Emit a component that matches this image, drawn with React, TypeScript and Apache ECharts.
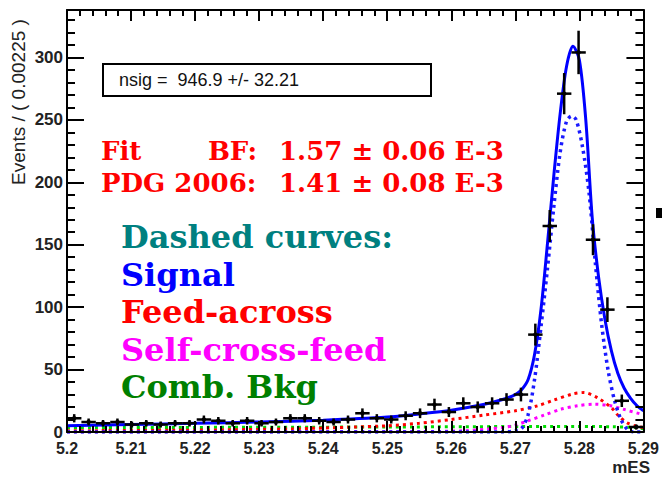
import React, { useEffect, useRef } from "react";
import * as echarts from "echarts";

// Bin centers (bin width 0.00225)
const binCenters = [
  5.201125, 5.203375, 5.205625, 5.207875, 5.210125, 5.212375, 5.214625, 5.216875,
  5.219125, 5.221375, 5.223625, 5.225875, 5.228125, 5.230375, 5.232625, 5.234875,
  5.237125, 5.239375, 5.241625, 5.243875, 5.246125, 5.248375, 5.250625, 5.252875,
  5.255125, 5.257375, 5.259625, 5.261875, 5.264125, 5.266375, 5.268625, 5.270875,
  5.273125, 5.275375, 5.277625, 5.279875, 5.282125, 5.284375, 5.286625, 5.288875,
];
const counts = [
  11, 8, 7, 8, 6, 7, 6, 7, 7, 10, 9, 7, 9, 7, 8, 11, 11, 9, 8, 10,
  15, 11, 10, 13, 15, 22, 16, 23, 20, 23, 26, 30, 78, 165, 271, 304, 154, 98, 25, 4,
];
const errors = [
  3.3, 2.8, 2.6, 2.8, 2.4, 2.6, 2.4, 2.6, 2.6, 3.2, 3.0, 2.6, 3.0, 2.6, 2.8, 3.3, 3.3, 3.0, 2.8, 3.2,
  3.9, 3.3, 3.2, 3.6, 3.9, 4.7, 4.0, 4.8, 4.5, 4.8, 5.1, 5.5, 8.8, 12.8, 16.5, 17.4, 12.4, 9.9, 5.0, 2.0,
];

const totalFit = [
  [5.2, 5], [5.21, 6], [5.22, 7], [5.23, 8], [5.24, 9.5], [5.25, 12], [5.255, 14.5],
  [5.26, 17.5], [5.265, 22], [5.268, 26], [5.27, 30], [5.271, 34], [5.272, 42], [5.273, 62],
  [5.274, 98], [5.275, 150], [5.276, 205], [5.277, 255], [5.278, 293], [5.279, 309],
  [5.28, 298], [5.281, 250], [5.282, 172], [5.283, 124], [5.284, 90], [5.285, 65],
  [5.286, 47], [5.287, 35], [5.288, 27], [5.289, 21], [5.29, 17],
];
const signalCurve = [
  [5.2, 0], [5.26, 0], [5.268, 0], [5.27, 1], [5.271, 3], [5.272, 14], [5.273, 42],
  [5.274, 84], [5.275, 130], [5.276, 180], [5.277, 224], [5.278, 249], [5.2788, 253],
  [5.2795, 250], [5.2805, 228], [5.2815, 192], [5.2825, 135], [5.2835, 85], [5.2845, 49],
  [5.2855, 25], [5.2865, 10], [5.2875, 2], [5.2885, 0], [5.29, 0],
];
const feedAcross = [
  [5.2, 1], [5.22, 1.5], [5.235, 2.5], [5.245, 4], [5.25, 5], [5.255, 7], [5.26, 10],
  [5.265, 13.5], [5.27, 17], [5.2735, 21], [5.276, 25.5], [5.279, 30.5], [5.2807, 31.6],
  [5.2828, 27.5], [5.285, 19.5], [5.2861, 13], [5.2874, 7.5], [5.289, 4.5], [5.29, 3.5],
];
const selfCrossFeed = [
  [5.2, 0], [5.255, 0.3], [5.262, 1], [5.266, 2.5], [5.268, 3.5], [5.27, 5.5], [5.272, 9],
  [5.2746, 13.7], [5.2771, 18.2], [5.2797, 21], [5.2823, 22.3], [5.2849, 21], [5.2869, 18.2],
  [5.2895, 14.5], [5.29, 14],
];
const combBkg = [
  [5.2, 3.5], [5.25, 4], [5.28, 4.5], [5.285, 4.2], [5.288, 3.8], [5.289, 3.5], [5.29, 2.5],
];

const nsigText = "nsig =  946.9 +/- 32.21";
const fitLabel = "Fit";
const bfLabel = "BF:";
const bfValue = "1.57 ± 0.06 E-3";
const pdgLabel = "PDG 2006:";
const pdgValue = "1.41 ± 0.08 E-3";
const legendLines = [
  { text: "Dashed curves:", color: "#008080" },
  { text: "Signal", color: "#0000ff" },
  { text: "Feed-across", color: "#ff0000" },
  { text: "Self-cross-feed", color: "#ff00ff" },
  { text: "Comb. Bkg", color: "#008000" },
];

export default function App() {
  const ref = useRef<HTMLDivElement>(null);
  useEffect(() => {
    document.body.style.margin = "0";
    const chart = echarts.init(ref.current!, null, { renderer: "svg" });
    const pts = binCenters.map((x, i) => [x, counts[i], errors[i]]);
    const axisCommonX = {
      type: "value",
      min: 5.2,
      max: 5.29,
      interval: 0.01,
      z: 10,
      axisLine: { show: true, onZero: false, lineStyle: { color: "#000", width: 2 } },
      axisTick: { show: true, inside: true, length: 11, lineStyle: { color: "#000", width: 2 } },
      minorTick: { show: true, splitNumber: 5, length: 6, lineStyle: { color: "#000", width: 2 } },
      splitLine: { show: false },
      minorSplitLine: { show: false },
    };
    const axisCommonY = {
      type: "value",
      min: 0,
      max: 338,
      interval: 50,
      z: 10,
      axisLine: { show: true, onZero: false, lineStyle: { color: "#000", width: 2 } },
      axisTick: { show: true, inside: true, length: 17, lineStyle: { color: "#000", width: 2 } },
      minorTick: { show: true, splitNumber: 5, length: 8, lineStyle: { color: "#000", width: 2 } },
      splitLine: { show: false },
      minorSplitLine: { show: false },
    };
    const dotted = (color: string, width = 3) => ({
      color,
      width,
      type: [3, 4],
      cap: "butt",
    });
    const redFont = "bold 26px 'DejaVu Serif'";
    const graphics: any[] = [
      {
        type: "rect",
        shape: { x: 103, y: 64, width: 328, height: 32 },
        style: { fill: "#fff", stroke: "#000", lineWidth: 2 },
        z: 20,
      },
      {
        type: "text",
        x: 119,
        y: 80,
        z: 21,
        style: {
          text: nsigText,
          font: "18px 'Liberation Sans'",
          fill: "#111",
          verticalAlign: "middle",
          align: "left",
        },
      },
      {
        type: "text", x: 101, y: 151, z: 21,
        style: { text: fitLabel, font: redFont, fill: "#ff0000", verticalAlign: "middle", align: "left" },
      },
      {
        type: "text", x: 257, y: 151, z: 21,
        style: { text: bfLabel, font: redFont, fill: "#ff0000", verticalAlign: "middle", align: "right" },
      },
      {
        type: "text", x: 279, y: 151, z: 21,
        style: { text: bfValue, font: redFont, fill: "#ff0000", verticalAlign: "middle", align: "left" },
      },
      {
        type: "text", x: 101, y: 183, z: 21,
        style: { text: pdgLabel, font: redFont, fill: "#ff0000", verticalAlign: "middle", align: "left" },
      },
      {
        type: "text", x: 279, y: 183, z: 21,
        style: { text: pdgValue, font: redFont, fill: "#ff0000", verticalAlign: "middle", align: "left" },
      },
      ...legendLines.map((l, i) => ({
        type: "text",
        x: 121,
        y: 237 + i * 37.5,
        z: 21,
        style: { text: l.text, font: "bold 32px 'DejaVu Serif'", fill: l.color, verticalAlign: "middle", align: "left" },
      })),
      {
        type: "text",
        x: 18,
        y: 102,
        rotation: Math.PI / 2,
        z: 21,
        style: {
          text: "Events / ( 0.00225 )",
          font: "19px 'Liberation Sans'",
          fill: "#222",
          align: "center",
          verticalAlign: "middle",
        },
      },
      {
        type: "text",
        x: 650,
        y: 467,
        z: 21,
        style: { text: "mES", font: "bold 17px 'Liberation Sans'", fill: "#222", align: "right", verticalAlign: "middle" },
      },
      {
        type: "rect",
        shape: { x: 656, y: 208, width: 6, height: 10 },
        style: { fill: "#000" },
        z: 21,
      },
    ];

    chart.setOption({
      animation: false,
      backgroundColor: "#fff",
      grid: { left: 67, right: 12, top: 10, bottom: 47, show: false },
      xAxis: [
        {
          ...axisCommonX,
          position: "bottom",
          axisLabel: {
            show: true,
            margin: 8,
            fontFamily: "Liberation Sans",
            fontWeight: "bold",
            fontSize: 16,
            color: "#222",
            formatter: (v: number) => String(parseFloat(v.toFixed(3))),
          },
        },
        { ...axisCommonX, position: "top", axisLabel: { show: false } },
      ],
      yAxis: [
        {
          ...axisCommonY,
          position: "left",
          axisLabel: {
            show: true,
            margin: 4,
            showMaxLabel: false,
            fontFamily: "Liberation Sans",
            fontWeight: "bold",
            fontSize: 17,
            color: "#222",
          },
        },
        { ...axisCommonY, position: "right", axisLabel: { show: false } },
      ],
      graphic: graphics,
      series: [
        {
          type: "line", data: combBkg, smooth: 0.3, symbol: "none",
          lineStyle: dotted("#00dd00"), z: 3,
        },
        {
          type: "line", data: selfCrossFeed, smooth: 0.3, symbol: "none",
          lineStyle: dotted("#ff00ff"), z: 3,
        },
        {
          type: "line", data: feedAcross, smooth: 0.3, symbol: "none",
          lineStyle: dotted("#ff0000"), z: 3,
        },
        {
          type: "line", data: signalCurve, smooth: 0.3, symbol: "none",
          lineStyle: dotted("#1a1aff", 3.5), z: 4,
        },
        {
          type: "line", data: totalFit, smooth: 0.3, symbol: "none",
          lineStyle: { color: "#0000ff", width: 3 }, z: 5,
        },
        {
          type: "custom",
          data: pts,
          encode: { x: 0, y: 1 },
          z: 6,
          renderItem: (params: any, api: any) => {
            const x = api.value(0);
            const y = api.value(1);
            const e = api.value(2);
            const c = api.coord([x, y]);
            const lo = api.coord([x, y - e]);
            const hi = api.coord([x, y + e]);
            const hw = api.size([0.00225, 0])[0] / 2;
            return {
              type: "group",
              children: [
                { type: "line", shape: { x1: c[0], y1: lo[1], x2: c[0], y2: hi[1] }, style: { stroke: "#000", lineWidth: 2.5 } },
                { type: "line", shape: { x1: c[0] - hw, y1: c[1], x2: c[0] + hw, y2: c[1] }, style: { stroke: "#000", lineWidth: 2.5 } },
                { type: "circle", shape: { cx: c[0], cy: c[1], r: 2.2 }, style: { fill: "#000" } },
              ],
            };
          },
        },
      ],
    });
    return () => chart.dispose();
  }, []);
  return <div ref={ref} style={{ width: 662, height: 479 }} />;
}
